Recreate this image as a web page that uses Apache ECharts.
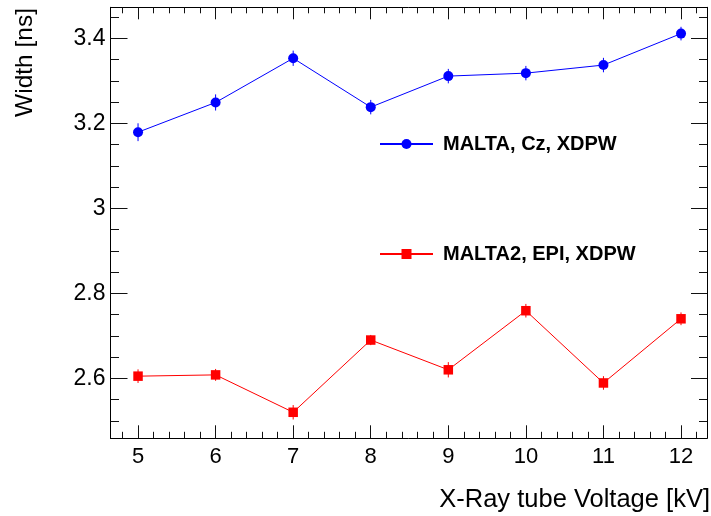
<!DOCTYPE html>
<html>
<head>
<meta charset="utf-8">
<script src="https://cdn.jsdelivr.net/npm/echarts@6/dist/echarts.min.js"></script>
<style>
html,body{margin:0;padding:0;background:#fff;}
#chart{width:711px;height:516px;}
</style>
</head>
<body>
<div id="chart"></div>
<script>
// ---- data ----
var voltages = [5, 6, 7, 8, 9, 10, 11, 12];
var maltaCz = [3.179, 3.249, 3.353, 3.238, 3.311, 3.318, 3.337, 3.411];
var maltaCzErr = [0.021, 0.019, 0.018, 0.017, 0.017, 0.017, 0.017, 0.016];
var malta2Epi = [2.605, 2.608, 2.520, 2.690, 2.620, 2.759, 2.589, 2.740];
var malta2EpiErr = [0.016, 0.014, 0.017, 0.012, 0.018, 0.016, 0.016, 0.015];
var seriesNames = ['MALTA, Cz, XDPW', 'MALTA2, EPI, XDPW'];

var xMajorTicks = [5, 6, 7, 8, 9, 10, 11, 12];
var yMajorTicks = [2.6, 2.8, 3.0, 3.2, 3.4];
var xTitle = 'X-Ray tube Voltage [kV]';
var yTitle = 'Width [ns]';

var xRange = [4.645, 12.335];
var yRange = [2.4588, 3.4729];

// minor ticks (tick marks only)
var xMinorTicks = [];
for (var i = 24; i <= 61; i++) { if (i % 5 !== 0) xMinorTicks.push(+(i * 0.2).toFixed(2)); }
var yMinorTicks = [];
for (var j = 50; j <= 69; j++) { var v = +(j * 0.05).toFixed(2); if (Math.abs(v * 5 - Math.round(v * 5)) > 1e-6) yMinorTicks.push(v); }

function pairs(xs, ys) { return xs.map(function (x, k) { return [x, ys[k]]; }); }
function errData(xs, ys, es) { return xs.map(function (x, k) { return [x, ys[k], es[k]]; }); }

var chart = echarts.init(document.getElementById('chart'), null, { renderer: 'canvas' });

var tickColor = '#111';
function xAxis(pos, ticks, len, showLine, showLabel) {
  return {
    type: 'value', position: pos, min: xRange[0], max: xRange[1],
    axisLine: { show: showLine, onZero: false, lineStyle: { color: '#000', width: 1 } },
    axisTick: { show: true, inside: true, length: len, customValues: ticks, lineStyle: { color: tickColor, width: 1 } },
    axisLabel: { show: showLabel, customValues: xMajorTicks, margin: 8, fontSize: 22, color: '#000', fontFamily: 'Liberation Sans',
      formatter: function (v) { return String(Math.round(v)); } },
    splitLine: { show: false }
  };
}
function yAxis(pos, ticks, len, showLine, showLabel) {
  return {
    type: 'value', position: pos, min: yRange[0], max: yRange[1],
    axisLine: { show: showLine, onZero: false, lineStyle: { color: '#000', width: 1 } },
    axisTick: { show: true, inside: true, length: len, customValues: ticks, lineStyle: { color: tickColor, width: 1 } },
    axisLabel: { show: showLabel, customValues: yMajorTicks, margin: 5, fontSize: 23, color: '#000', fontFamily: 'Liberation Sans',
      formatter: function (v) { return String(+v.toFixed(1)); } },
    splitLine: { show: false }
  };
}

function errorSeries(data, color) {
  return {
    type: 'custom', xAxisIndex: 0, yAxisIndex: 0, z: 3, silent: true,
    data: data,
    renderItem: function (params, api) {
      var x = api.value(0), y = api.value(1), e = api.value(2);
      var p1 = api.coord([x, y - e]);
      var p2 = api.coord([x, y + e]);
      return { type: 'line', shape: { x1: p1[0], y1: p1[1], x2: p2[0], y2: p2[1] },
        style: { stroke: color, lineWidth: 1 } };
    }
  };
}

var legendText = { fontSize: 20, fontWeight: 'bold', color: '#000', fontFamily: 'Liberation Sans', padding: [0, 0, 0, 5] };

var option = {
  backgroundColor: '#fff',
  animation: false,
  grid: { left: 110.5, right: 4, top: 7.3, bottom: 77.7, containLabel: false },
  xAxis: [
    xAxis('bottom', xMajorTicks, 13, true, true),
    xAxis('bottom', xMinorTicks, 6.5, false, false),
    xAxis('top', xMajorTicks, 12, true, false),
    xAxis('top', xMinorTicks, 6, false, false)
  ],
  yAxis: [
    yAxis('left', yMajorTicks, 17, true, true),
    yAxis('left', yMinorTicks, 8.5, false, false),
    yAxis('right', yMajorTicks, 16, true, false),
    yAxis('right', yMinorTicks, 8, false, false)
  ],
  legend: [
    { data: [seriesNames[0]], left: 379, top: 134, itemWidth: 53, itemHeight: 12.5, textStyle: legendText, padding: 0 },
    { data: [seriesNames[1]], left: 379, top: 244, itemWidth: 53, itemHeight: 12.5, textStyle: legendText, padding: 0 }
  ],
  series: [
    { name: seriesNames[0], type: 'line', xAxisIndex: 0, yAxisIndex: 0, z: 4,
      data: pairs(voltages, maltaCz), symbol: 'circle', symbolSize: 10,
      itemStyle: { color: '#0000ff' }, lineStyle: { color: '#0000ff', width: 1 } },
    { name: seriesNames[1], type: 'line', xAxisIndex: 0, yAxisIndex: 0, z: 4,
      data: pairs(voltages, malta2Epi), symbol: 'rect', symbolSize: 9.5,
      itemStyle: { color: '#ff0000' }, lineStyle: { color: '#ff0000', width: 1 } },
    errorSeries(errData(voltages, maltaCz, maltaCzErr), '#0000ff'),
    errorSeries(errData(voltages, malta2Epi, malta2EpiErr), '#ff0000')
  ],
  graphic: [
    { type: 'text', x: 25, y: 8, rotation: Math.PI / 2,
      style: { text: yTitle, fontSize: 24.5, fontFamily: 'Liberation Sans', fill: '#000', align: 'right', verticalAlign: 'middle' } },
    { type: 'text', x: 710, y: 500,
      style: { text: xTitle, fontSize: 25.5, fontFamily: 'Liberation Sans', fill: '#000', align: 'right', verticalAlign: 'middle' } }
  ]
};
chart.setOption(option);
</script>
</body>
</html>
